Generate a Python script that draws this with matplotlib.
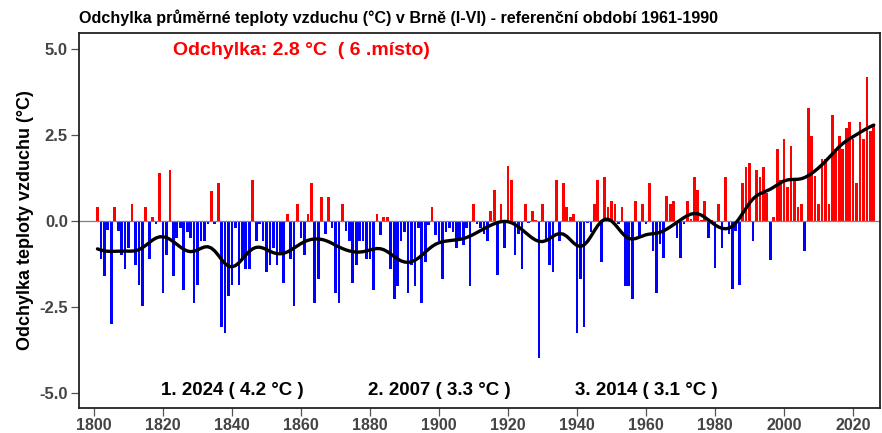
import numpy as np
import matplotlib
matplotlib.use("Agg")
import matplotlib.pyplot as plt

start_year = 1801
anomaly = [
    0.39, -1.10, -1.60, -0.27, -3.00, 0.39, -0.30, -1.00, -1.39, -0.80,   # 1801-1810
    0.49, -1.29, -1.87, -2.49, 0.39, -1.10, 0.10, -0.10, 1.38, -2.10,     # 1811-1820
    -1.00, 1.48, -1.60, -0.51, -0.20, -2.00, -0.32, -0.50, -2.40, -1.87,  # 1821-1830
    -0.60, -0.60, -0.10, 0.87, -0.10, 1.09, -3.08, -3.28, -2.19, -1.87,   # 1831-1840
    -0.20, -1.87, -1.10, -1.39, -1.39, 1.18, -0.60, -0.10, -0.60, -1.48,  # 1841-1850
    -1.29, -0.80, -1.29, -0.90, -1.80, 0.20, -1.10, -2.49, 0.49, -0.51,   # 1851-1860
    -1.00, 0.20, 1.09, -2.39, -1.68, 0.68, -0.39, 0.68, -0.20, -2.10,     # 1861-1870
    -2.39, 0.49, -0.30, -0.60, -1.80, -1.29, -0.60, -0.60, -1.10, -1.10,  # 1871-1880
    -2.00, 0.20, -0.42, 0.10, 0.10, -1.39, -2.29, -1.90, -0.60, -0.32,    # 1881-1890
    -2.10, -1.29, -1.90, -0.20, -2.39, -1.20, -0.13, 0.39, -0.42, -0.60,  # 1891-1900
    -1.70, -0.32, -0.22, -0.32, -0.80, -0.50, -0.70, -0.22, -1.90, 0.49,  # 1901-1910
    -0.10, -0.20, -0.39, -0.60, 0.29, 0.89, -1.58, 0.49, -0.80, 1.59,     # 1911-1920
    1.18, -1.00, -0.39, -1.39, 0.49, -0.05, 0.29, 0.02, -3.98, 0.49,      # 1921-1930
    -0.60, -1.29, -1.48, 1.18, -0.60, 1.09, 0.39, 0.10, 0.20, -3.28,      # 1931-1940
    -1.70, -3.08, -0.05, -0.32, 0.49, 1.18, -1.20, 1.28, 0.39, 0.58,      # 1941-1950
    0.49, -0.10, 0.39, -1.90, -1.90, -2.29, 0.58, -0.46, 0.50, -0.10,     # 1951-1960
    1.10, -0.89, -2.09, -0.68, -1.09, 0.71, 0.50, 0.59, -0.49, -1.09,     # 1961-1970
    -0.10, 0.59, 0.05, 1.29, 0.90, 0.03, 0.59, -0.49, 0.02, -1.38,        # 1971-1980
    0.50, -0.80, 1.29, -0.39, -1.99, -0.30, -1.88, 1.10, 1.58, 1.68,      # 1981-1990
    -0.60, 1.49, 1.29, 1.58, 0.80, -1.15, 0.10, 2.10, 1.19, 2.39,         # 1991-2000
    1.00, 2.18, 1.20, 0.39, 0.49, -0.89, 3.28, 2.48, 1.30, 0.49,          # 2001-2010
    1.80, 1.80, 0.49, 3.09, 2.09, 2.48, 2.09, 2.69, 2.89, 2.38,           # 2011-2020
    1.10, 2.89, 2.38, 4.18, 2.62, 2.78,                                   # 2021-2026
]
years = np.arange(start_year, start_year + len(anomaly))
values = np.array(anomaly)

title = "Odchylka průměrné teploty vzduchu (°C) v Brně (I-VI) - referenční období 1961-1990"
ylabel = "Odchylka teploty vzduchu (°C)"
current_text = "Odchylka: 2.8 °C  ( 6 .místo)"
rank_labels = ["1. 2024 ( 4.2 °C )", "2. 2007 ( 3.3 °C )", "3. 2014 ( 3.1 °C )"]
rank_x = [1840, 1900, 1960]
xticks = list(range(1800, 2021, 20))
yticks = [-5.0, -2.5, 0.0, 2.5, 5.0]
ytick_labels = ["-5.0", "-2.5", "0.0", "2.5", "5.0"]

# smoothed curve derived from the data (Gaussian kernel smoother)
sigma = 3.6
d = years[:, None] - years[None, :]
w = np.exp(-0.5 * (d / sigma) ** 2)
smooth = (w @ values) / w.sum(axis=1)

plt.rcParams['font.family'] = ['Liberation Sans', 'DejaVu Sans']

fig = plt.figure(figsize=(8.82, 4.33), dpi=100)
ax = fig.add_axes([79 / 882, 1 - 408 / 433, (880 - 79) / 882, (408 - 33) / 433])

colors = np.where(values >= 0, '#ff0000', '#0000ff')
ax.bar(years, values, width=0.78, color=colors, linewidth=0)
ax.axhline(0, color='#808080', lw=0.9, zorder=1)
ax.plot(years, smooth, color='black', lw=2.4, zorder=3, solid_capstyle='round')

ax.set_xlim(1795.65, 2027.8)
ax.set_ylim(-5.45, 5.47)
ax.set_xticks(xticks)
ax.set_xticklabels([str(t) for t in xticks], fontsize=11.5,
                   fontweight='bold', color='#444444')
ax.set_yticks(yticks)
ax.set_yticklabels(ytick_labels, fontsize=12, fontweight='bold', color='#444444')
ax.tick_params(axis='both', direction='out', length=6, width=0.9, color='#555555', pad=2)
ax.tick_params(axis='x', pad=1)
for s in ax.spines.values():
    s.set_linewidth(1.3)
    s.set_color('#222222')

ax.set_ylabel(ylabel, fontsize=13, fontweight='bold', labelpad=4)
ax.set_title(title, loc='left', fontsize=11.6, fontweight='bold', pad=7)

ax.text(1860, 4.95, current_text, color='#ff0000', fontsize=14, fontweight='bold',
        ha='center', va='center')
for lbl, xx in zip(rank_labels, rank_x):
    ax.text(xx, -4.95, lbl, fontsize=13.5, fontweight='bold',
            ha='center', va='center', color='black')

fig.savefig("out.png", dpi=100)
